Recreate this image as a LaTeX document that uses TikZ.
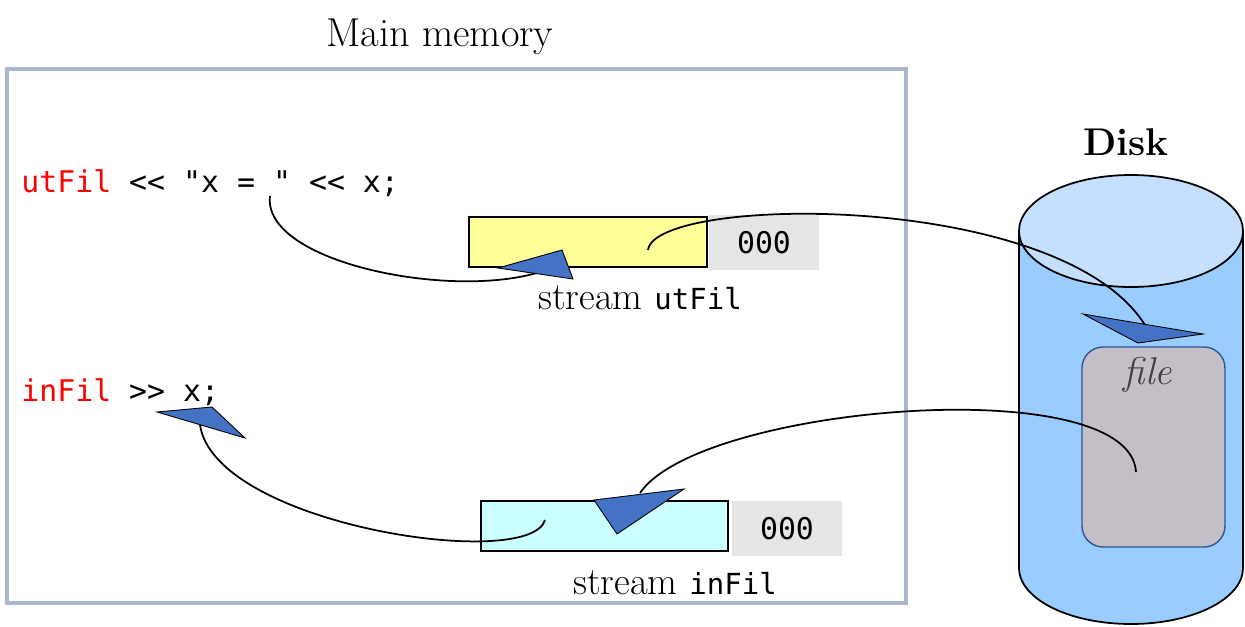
\documentclass[tikz,border=0pt]{standalone}
\usepackage{fontspec}
\newfontfamily\code{DejaVu Sans Mono}
\begin{document}
\begin{tikzpicture}[x=0.02cm,y=-0.02cm,
  codetxt/.style={font=\code\fontsize{17}{20}\selectfont,anchor=west,inner sep=0},
  serif/.style={font=\fontsize{22}{26}\selectfont},
  buf/.style={draw,line width=0.8pt},
  cnt/.style={fill=black!10,font=\code\fontsize{17}{20}\selectfont},
  head/.style={fill=arrowblue,draw=black,line width=0.5pt},
  curve/.style={line width=1pt}]
\definecolor{arrowblue}{HTML}{4472C4}
\useasboundingbox (0,0) rectangle (1245,626);
% main memory
\node[serif,font=\fontsize{23}{27}\selectfont] (mmt) at (440,37) {Main memory};
\draw[draw={rgb,255:red,171;green,184;blue,204},line width=2.2pt] (7,69) rectangle (906,603);
\node[codetxt] (c1) at (21,183) {\textcolor{red}{utFil} << "x = " << x;};
\node[codetxt] (c2) at (21,392) {\textcolor{red}{inFil} >> x;};
% buffers
\node[buf,fill={rgb,255:red,255;green,255;blue,153},minimum width=238*0.02cm,minimum height=50*0.02cm] (ub) at (588,242) {};
\node[cnt,minimum width=110*0.02cm,minimum height=55*0.02cm] (uc) at (764,242.5) {000};
\node[serif] (ul) at (640,298) {stream {\code\fontsize{16.5}{18}\selectfont utFil}};
\node[buf,fill={rgb,255:red,204;green,255;blue,255},minimum width=247*0.02cm,minimum height=50*0.02cm] (ib) at (604.5,526) {};
\node[cnt,minimum width=110*0.02cm,minimum height=55*0.02cm] (ic) at (787,528.5) {000};
\node[serif] (il) at (675,583) {stream {\code\fontsize{16.5}{18}\selectfont inFil}};
% disk
\node[font=\bfseries\fontsize{22}{26}\selectfont] (dt) at (1126,142) {Disk};
\fill[fill={rgb,255:red,153;green,204;blue,255}] (1019,231) -- (1019,568) arc[start angle=180,end angle=360,x radius=112,y radius=-56] -- (1243,231) -- cycle;
\draw[line width=1pt] (1019,231) -- (1019,568) arc[start angle=180,end angle=360,x radius=112,y radius=-56] -- (1243,231);
\draw[line width=1pt,fill={rgb,255:red,197;green,224;blue,255}] (1131,231) ellipse[x radius=112,y radius=56];
\node[draw={rgb,255:red,47;green,85;blue,151},line width=0.8pt,fill={rgb,255:red,196;green,191;blue,198},rounded corners=12pt,minimum width=143*0.02cm,minimum height=200*0.02cm] (file) at (1153.5,447) {};
\node[font=\itshape\fontsize{22}{26}\selectfont,text=black!75] (ft) at (1148,375) {file};
% connectors
\coordinate (a1) at (270,196); \coordinate (a1e) at (540,272);
\draw[curve] (a1) .. controls (262,262) and (450,300) .. (a1e);
\draw[head] (498,268) -- (562,250) -- (573,279) -- cycle;
\coordinate (a2) at (648,250); \coordinate (a2e) at (1145,325);
\draw[curve] (a2) .. controls (655,195) and (1060,190) .. (a2e);
\draw[head] (1083,314) -- (1203,334) -- (1138,343) -- cycle;
\coordinate (a3) at (1136,472); \coordinate (a3e) at (640,493);
\draw[curve] (a3) .. controls (1130,370) and (700,405) .. (a3e);
\draw[head] (594,500) -- (684,489) -- (617,534) -- cycle;
\coordinate (a4) at (545,520); \coordinate (a4e) at (200,425);
\draw[curve] (a4) .. controls (530,572) and (215,525) .. (a4e);
\draw[head] (157,412) -- (212,407) -- (245,438) -- cycle;
\end{tikzpicture}
\end{document}
